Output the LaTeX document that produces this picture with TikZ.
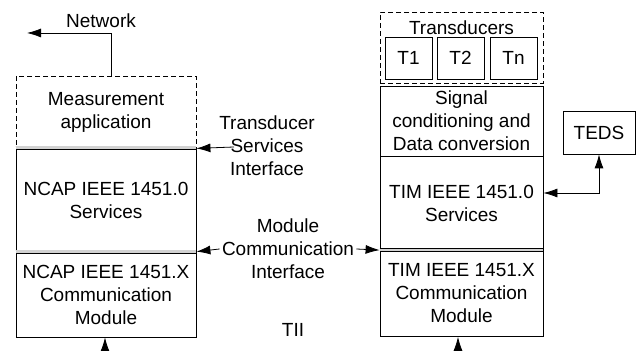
\documentclass[tikz,border=0pt]{standalone}
\usepackage{fontspec}
\setmainfont{Liberation Sans}
\usetikzlibrary{arrows.meta}

\tikzset{
  blk/.style={draw, rectangle, align=center, inner sep=1pt},
  dashblk/.style={blk, dash pattern=on 2.5pt off 1.5pt},
  txt/.style={align=center, inner sep=1pt},
  sep/.style={draw, double=gray!35, double distance=1.2pt},
  tip/.tip={Latex[length=7pt,width=4.5pt]},
  arr/.style={-tip},
}

\begin{document}
\begin{tikzpicture}[x=0.5pt,y=-0.5pt,font=\fontsize{9.5pt}{11.5pt}\selectfont]
\useasboundingbox (0,0) rectangle (642,351);

% NCAP side
\node[dashblk, minimum width=90pt, minimum height=36pt] (meas) at (106,112) {Measurement\\application};
\node[blk, minimum width=90pt, minimum height=52pt] (ncap0) at (106,200) {NCAP IEEE 1451.0\\Services};
\node[blk, minimum width=90pt, minimum height=42.5pt] (ncapx) at (106,294.5) {NCAP IEEE 1451.X\\Communication\\Module};
\draw[sep] (ncap0.north west) -- (ncap0.north east);
\draw[sep] (ncapx.north west) -- (ncapx.north east);

\node[txt] (netlbl) at (101,21) {Network};
\coordinate (net) at (27,33);
\draw[arr] ([xshift=2.5pt]meas.north) |- (net);

% TIM side
\node[dashblk, minimum width=81.5pt, minimum height=35.5pt] (trans) at (461.5,47.5) {};
\node[txt, anchor=north] (translbl) at ([yshift=-3.5pt]trans.north) {Transducers};
\node[blk, minimum width=23.5pt, minimum height=21pt] (t1) at (408.5,58) {T1};
\node[blk, minimum width=23.5pt, minimum height=21pt] (t2) at (460.5,58) {T2};
\node[blk, minimum width=23.5pt, minimum height=21pt] (tn) at (513.5,58) {Tn};

\node[blk, minimum width=81.5pt, minimum height=35pt] (sig) at (461.5,121) {Signal\\conditioning and\\Data conversion};
\node[blk, minimum width=81.5pt, minimum height=47pt] (tim0) at (461.5,203) {TIM IEEE 1451.0\\Services};
\node[blk, minimum width=81.5pt, minimum height=43pt] (timx) at (461.5,293.5) {TIM IEEE 1451.X\\Communication\\Module};
\draw[sep] (timx.north west) -- (timx.north east);

\node[blk, minimum width=36pt, minimum height=21.5pt] (teds) at (599,132.5) {TEDS};
\draw[tip-tip] (teds.south) |- ([yshift=5pt]tim0.east);

% interfaces
\node[txt] (tsi) at (267,146) {Transducer\\Services\\Interface};
\coordinate (tsiend) at (234,147);
\draw[arr] (tsiend) -- (meas.south east);

\node[txt] (mci) at (288,249) {Module\\Communication\\Interface};
\draw[arr] (mci.west) -- (ncapx.north east);
\draw[arr] (mci.east) -- (timx.north west);

\node[txt] (tii) at (293,330) {TII};
\coordinate (nbot) at (105,351);
\coordinate (tbot) at (458,351);
\draw[arr] (nbot) -- (nbot |- ncapx.south);
\draw[arr] (tbot) -- (tbot |- timx.south);
\end{tikzpicture}
\end{document}
